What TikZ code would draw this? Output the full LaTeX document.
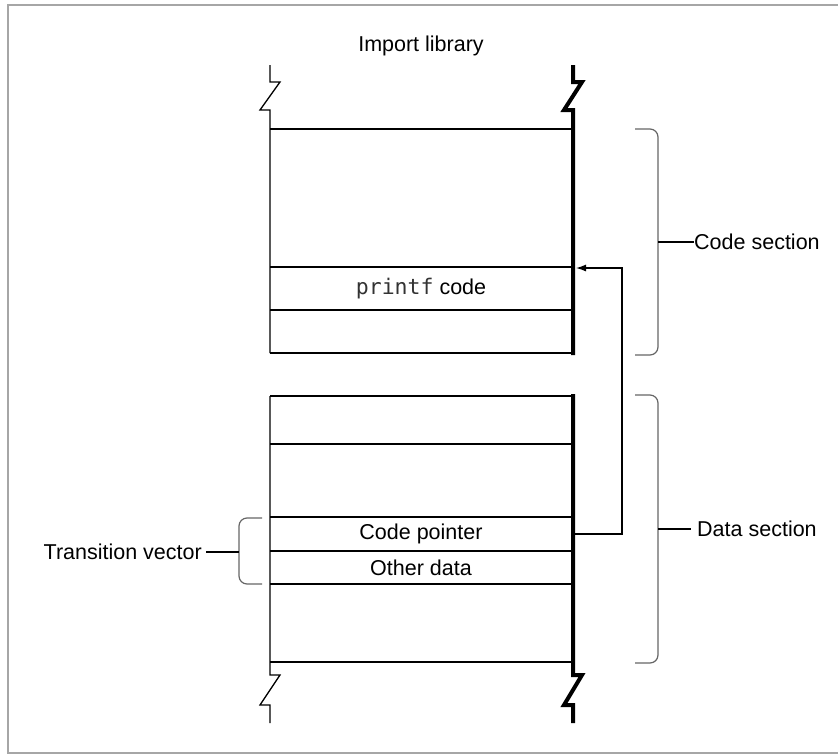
\documentclass[tikz,border=0pt]{standalone}
\usepackage{fontspec}
\setmainfont{Liberation Sans}
\newfontfamily\codefont{DejaVu Sans Mono}
\usetikzlibrary{arrows.meta}
\begin{document}
\begin{tikzpicture}[x=1pt,y=-1pt,
  thinline/.style={line width=1.3pt,black},
  thickwall/.style={line width=4pt,black},
  bracket/.style={line width=1.2pt,black!60,rounded corners=8pt},
  tick/.style={line width=1.2pt,black},
  lbl/.style={font=\fontsize{21.5}{25}\selectfont,inner sep=0pt},
  frame/.style={line width=1.5pt,black!35}]
\useasboundingbox (0,0) rectangle (838,755);
% frame
\draw[frame] (840,5) -- (8,5) -- (8,753) -- (840,753);
% title
\node[lbl] (title) at (421,46) {Import library};
% upper block walls
\draw[thinline,line join=miter] (270,65) -- (270,82) -- (280,82) -- (260,110) -- (270,110) -- (270,353);
\draw[thickwall,line join=miter] (573,65) -- (573,82) -- (582,82) -- (564,110) -- (573,110) -- (573,355);
\foreach \y in {129,267,310,353} \draw[thinline] (270,\y) -- (571,\y);
% lower block walls
\draw[thinline,line join=miter] (270,396) -- (270,675) -- (280,675) -- (260,705) -- (270,705) -- (270,723);
\draw[thickwall,line join=miter] (573,394) -- (573,675) -- (582,675) -- (564,705) -- (573,705) -- (573,723);
\foreach \y in {396,444,517,551,584,662} \draw[thinline] (270,\y) -- (571,\y);
% cell texts
\node[lbl] (printf) at (421,289) {{\codefont\color{black!80}printf} code};
\node[lbl] (cptr) at (421,534) {Code pointer};
\node[lbl] (odata) at (421,568) {Other data};
% arrow from code pointer to printf code
\coordinate (cpout) at (575,534);
\coordinate (corner1) at (622,534);
\coordinate (corner2) at (622,268);
\coordinate (cpin) at (576,268);
\draw[thinline,-{Latex[length=10pt,width=7pt]}] (cpout) -- (corner1) -- (corner2) -- (cpin);
% code section bracket
\coordinate (cs) at (658,242);
\draw[bracket] (635,129) -| (cs) |- (635,355);
\node[lbl,anchor=west] (codesec) at (694,242) {Code section};
\draw[tick] (cs) -- (codesec.west);
% data section bracket
\coordinate (ds) at (658,529);
\draw[bracket] (635,395) -| (ds) |- (635,663);
\node[lbl,anchor=west] (datasec) at (697,529) {Data section};
\draw[tick] (ds) -- ([xshift=-6pt]datasec.west);
% transition vector bracket
\coordinate (tv) at (239,552);
\draw[bracket] (262,518) -| (tv) |- (262,584);
\node[lbl,anchor=east] (trans) at (202,552) {Transition vector};
\draw[tick] (tv) -- ([xshift=4pt]trans.east);
\end{tikzpicture}
\end{document}
